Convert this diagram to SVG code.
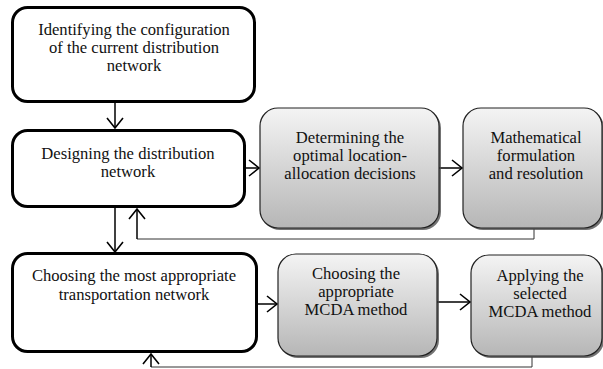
<svg xmlns="http://www.w3.org/2000/svg" width="603" height="369" viewBox="0 0 603 369">
<style>
.w{fill:#fff;stroke:#000;stroke-width:3}
.g{fill:url(#gr);stroke:#222;stroke-width:1.2}
.sh{fill:#444;opacity:0.75}
text{font-family:"Liberation Serif","Times New Roman",serif;font-size:16.6px;fill:#111;text-anchor:middle}
.c{fill:none;stroke:#000;stroke-width:1.5}
.f{fill:none;stroke:#333;stroke-width:1}
</style>
<defs>
<linearGradient id="gr" x1="0" y1="0" x2="0" y2="1">
<stop offset="0" stop-color="#f4f4f4"/>
<stop offset="1" stop-color="#b6b6b6"/>
</linearGradient>
<marker id="ah" markerUnits="userSpaceOnUse" markerWidth="14" markerHeight="20" viewBox="0 0 14 20" refX="12" refY="10" orient="auto">
<path d="M2,2 L12,10 L2,18" fill="none" stroke="#000" stroke-width="1.6"/>
</marker>
</defs>
<g id="connectors">
<line class="c" x1="115" y1="103" x2="115" y2="128" marker-end="url(#ah)"/>
<line class="c" x1="246" y1="168" x2="259" y2="168" marker-end="url(#ah)"/>
<line class="c" x1="439" y1="168" x2="462" y2="168" marker-end="url(#ah)"/>
<line class="c" x1="115" y1="208" x2="115" y2="252" marker-end="url(#ah)"/>
<polyline class="f" points="534,229 534,239 137,239"/>
<line class="c" x1="137" y1="239" x2="137" y2="209" marker-end="url(#ah)"/>
<line class="c" x1="258" y1="304" x2="277" y2="304" marker-end="url(#ah)"/>
<line class="c" x1="437" y1="302" x2="470" y2="302" marker-end="url(#ah)"/>
<polyline class="f" points="532,357 532,367 151,367"/>
<line class="c" x1="151" y1="367" x2="151" y2="354" marker-end="url(#ah)"/>
</g>
<g id="n1">
<rect class="w" x="12.5" y="7.5" width="242" height="94" rx="15"/>
<text x="134" y="35">Identifying the configuration</text>
<text x="134" y="53">of the current distribution</text>
<text x="134" y="71">network</text>
</g>
<g id="n2">
<rect class="w" x="12.5" y="130.5" width="232" height="76" rx="15"/>
<text x="128" y="159">Designing the distribution</text>
<text x="128" y="176.5">network</text>
</g>
<g id="n3">
<rect class="sh" x="262" y="110" width="179" height="120" rx="18"/>
<rect class="g" x="260" y="108" width="179" height="120" rx="18"/>
<text x="350" y="143">Determining the</text>
<text x="350" y="161">optimal location-</text>
<text x="350" y="179">allocation decisions</text>
</g>
<g id="n4">
<rect class="sh" x="465" y="110" width="139" height="120" rx="18"/>
<rect class="g" x="463" y="108" width="139" height="120" rx="18"/>
<text x="536" y="143">Mathematical</text>
<text x="536" y="161">formulation</text>
<text x="536" y="179">and resolution</text>
</g>
<g id="n5">
<rect class="w" x="12.5" y="253.5" width="244" height="98" rx="15"/>
<text x="134" y="281">Choosing the most appropriate</text>
<text x="134" y="300">transportation network</text>
</g>
<g id="n6">
<rect class="sh" x="280" y="256" width="159" height="102" rx="18"/>
<rect class="g" x="278" y="254" width="159" height="102" rx="18"/>
<text x="356" y="279">Choosing the</text>
<text x="356" y="297">appropriate</text>
<text x="356" y="315">MCDA method</text>
</g>
<g id="n7">
<rect class="sh" x="473" y="257" width="131" height="101" rx="18"/>
<rect class="g" x="471" y="255" width="131" height="101" rx="18"/>
<text x="540" y="281">Applying the</text>
<text x="540" y="299">selected</text>
<text x="540" y="317">MCDA method</text>
</g>
</svg>
